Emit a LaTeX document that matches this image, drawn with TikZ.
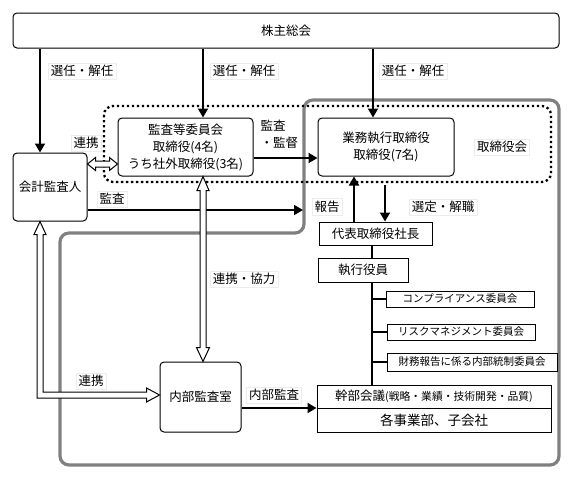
\documentclass[tikz,border=0pt]{standalone}
\usepackage{fontspec}
\setmainfont{Noto Sans CJK JP}
\usetikzlibrary{arrows.meta,calc}
\newcommand\szA{\fontsize{12.5pt}{17pt}\selectfont}
\newcommand\szB{\fontsize{10.5pt}{12pt}\selectfont}
\newcommand\szC{\fontsize{10.8pt}{12pt}\selectfont}
\newcommand\szD{\fontsize{13.5pt}{15pt}\selectfont}
\begin{document}
\begin{tikzpicture}[x=1pt,y=-1pt,
  rbox/.style={draw,line width=1pt,fill=white,rounded corners=4pt,inner sep=0pt,align=center,font=\szA},
  sbox/.style={draw,line width=1pt,fill=white,inner sep=0pt,align=center,font=\szA},
  cbox/.style={draw,line width=1pt,fill=white,inner sep=0pt,align=center,font=\szB},
  lbl/.style={draw=black!7,line width=0.4pt,fill=white,inner sep=2.5pt,font=\szA},
  arr/.style={line width=1.8pt,-{Triangle[length=9pt,width=10pt]}},
  tree/.style={line width=1.8pt},
  hollow/.style={draw,line width=1pt,fill=white,line join=miter},
  frame/.style={draw=black!50,line width=3.2pt,rounded corners=9pt},
  dots/.style={line width=2.3pt,dash pattern=on 2.3pt off 2.7pt,rounded corners=9pt},
]
\useasboundingbox (0,0) rectangle (575,479);
% grey frame and dotted board frame
\draw[frame] (60,465) -- (60,233) -- (304,233) -- (304,100) -- (559,100) -- (559,465) -- cycle;
\draw[dots] (104,106) rectangle (551,182);

% boxes
\node[rbox,minimum width=546pt,minimum height=35pt] (top) at (286,30.5) {株主総会};
\node[rbox,minimum width=74pt,minimum height=68pt] (kaikei) at (50,187) {会計監査人};
\node[rbox,minimum width=135pt,minimum height=58pt] (kansa) at (185.5,147) {監査等委員会\\取締役(4名)\\うち社外取締役(3名)};
\node[rbox,minimum width=136pt,minimum height=58pt] (gyomu) at (386,147) {業務執行取締役\\取締役(7名)};
\node[sbox,minimum width=113pt,minimum height=23pt] (daihyo) at (375.5,233.5) {代表取締役社長};
\node[sbox,minimum width=90pt,minimum height=24pt] (shikko) at (363,270) {執行役員};
\node[cbox,minimum width=148pt,minimum height=16pt] (comp) at (460,299) {コンプライアンス委員会};
\node[cbox,minimum width=148pt,minimum height=16pt] (risk) at (461,332) {リスクマネジメント委員会};
\node[cbox,minimum width=170pt,minimum height=18pt] (zaimu) at (472,362) {財務報告に係る内部統制委員会};
\node[sbox,minimum width=234pt,minimum height=23pt] (kanbu) at (434,396.5) {幹部会議{\szC(戦略・業績・技術開発・品質)}};
\node[sbox,minimum width=234pt,minimum height=24pt,font=\szD] (jigyo) at (434,420) {各事業部、子会社};
\node[rbox,minimum width=81pt,minimum height=70pt] (naibu) at (200.5,397) {内部監査室};

% labels
\node[lbl] (l1) at (82,71) {選任・解任};
\node[lbl] (l2) at (244,71) {選任・解任};
\node[lbl] (l3) at (413,71) {選任・解任};
\node[lbl] (l4) at (86,143) {連携};
\node[lbl,align=left,anchor=west,draw=none,fill=none] (l5) at (258,134.5) {監査\\・監督};
\node[lbl] (l6) at (112,199) {監査};
\node[lbl] (l7) at (502,147) {取締役会};
\node[lbl] (l8) at (327,207) {報告};
\node[lbl] (l9) at (443,207) {選定・解職};
\node[lbl] (l10) at (244,279) {連携・協力};
\node[lbl] (l11) at (91,381) {連携};
\node[lbl] (l12) at (274,395) {内部監査};

% black arrows
\coordinate (ka) at ($(kaikei.north)+(-10,0)$);
\draw[arr] (top.south -| ka) -- (ka);
\coordinate (kb) at ($(kansa.north)+(17.5,0)$);
\draw[arr] (top.south -| kb) -- (kb);
\coordinate (kc) at ($(gyomu.north)+(-13,0)$);
\draw[arr] (top.south -| kc) -- (kc);
\coordinate (kd) at ($(kansa.east)+(0,11)$);
\draw[arr] (kd) -- (kd -| gyomu.west);
\coordinate (ke) at ($(kaikei.east)+(0,23)$);
\coordinate (kaend) at (303,210);
\draw[arr] (ke) -- (kaend);
\coordinate (kf) at ($(daihyo.north)+(-21.5,0)$);
\draw[arr] (kf) -- (kf |- gyomu.south);
\coordinate (kg) at ($(gyomu.south)+(-1,8)$);
\draw[arr] (kg) -- (kg |- daihyo.north);
\coordinate (kh) at ($(naibu.east)+(0,11)$);
\draw[arr] (kh) -- (kh -| kanbu.west);

% tree
\coordinate (tx) at ($(daihyo.south)+(-3.5,0)$);
\draw[tree] (tx) -- (tx |- shikko.north);
\draw[tree] (tx |- shikko.south) -- (tx |- kanbu.north);
\draw[tree] (tx |- comp.west) -- (comp.west);
\draw[tree] (tx |- risk.west) -- (risk.west);
\draw[tree] (tx |- zaimu.west) -- (zaimu.west);

% hollow arrows
% kaikei <-> kansa
\coordinate (hL) at ($(kaikei.east)+(0,-23)$);
\coordinate (hR) at (kansa.west |- hL);
\draw[hollow] (hL) -- ($(hL)+(8pt,6.5pt)$) -- ($(hL)+(8pt,3pt)$) -- ($(hR)+(-8pt,3pt)$) -- ($(hR)+(-8pt,6.5pt)$) -- (hR)
  -- ($(hR)+(-8pt,-6.5pt)$) -- ($(hR)+(-8pt,-3pt)$) -- ($(hL)+(8pt,-3pt)$) -- ($(hL)+(8pt,-6.5pt)$) -- cycle;
% kansa <-> naibu
\coordinate (vT) at ($(kansa.south)+(17.5,0)$);
\coordinate (vB) at (vT |- naibu.north);
\draw[hollow] (vT) -- ($(vT)+(-6pt,-14pt)$) -- ($(vT)+(-3pt,-14pt)$) -- ($(vB)+(-3pt,14pt)$) -- ($(vB)+(-6.5pt,14pt)$) -- (vB)
  -- ($(vB)+(6.5pt,14pt)$) -- ($(vB)+(3pt,14pt)$) -- ($(vT)+(3pt,-14pt)$) -- ($(vT)+(6pt,-14pt)$) -- cycle;
% kaikei <-> naibu (L shape)
\coordinate (eT) at ($(kaikei.south)+(-10,0)$);
\coordinate (eR) at ($(naibu.west)+(0,-2)$);
\coordinate (eC) at (eT |- eR);
\draw[hollow] (eT) -- ($(eT)+(6pt,-13pt)$) -- ($(eT)+(3pt,-13pt)$) -- ($(eC)+(3pt,3pt)$) -- ($(eR)+(-13pt,3pt)$) -- ($(eR)+(-13pt,7pt)$) -- (eR)
  -- ($(eR)+(-13pt,-7pt)$) -- ($(eR)+(-13pt,-3pt)$) -- ($(eC)+(-3pt,-3pt)$) -- ($(eT)+(-3pt,-13pt)$) -- ($(eT)+(-6pt,-13pt)$) -- cycle;
\end{tikzpicture}
\end{document}
